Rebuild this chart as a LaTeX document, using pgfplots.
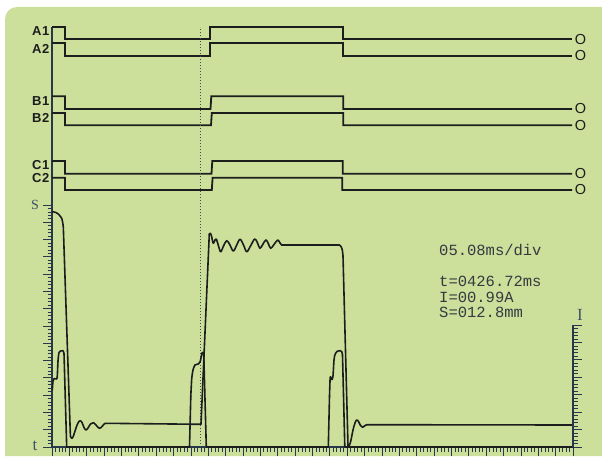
\documentclass[border=0pt]{standalone}
\usepackage{pgfplots}
\pgfplotsset{compat=1.18}
\usepackage{fontspec}
\setmainfont{Liberation Serif}
\newfontfamily\lsans{Liberation Sans}
\newfontfamily\lmono{Liberation Mono}
\definecolor{bg}{RGB}{204,224,155}
\definecolor{trace}{RGB}{28,30,30}
\definecolor{axc}{RGB}{38,56,74}
\definecolor{lab}{RGB}{62,82,104}
\definecolor{txt}{RGB}{52,58,64}
\definecolor{dotc}{RGB}{55,82,88}
\tikzset{
  lg/.style={draw=trace, line width=1.8pt, line join=miter},
  an/.style={draw=trace, line width=1.6pt, line join=round, line cap=round},
  lbl/.style={anchor=east, inner sep=0pt, text=trace, font=\lsans\bfseries\fontsize{13}{13}\selectfont},
  oo/.style={inner sep=0pt, text=trace, font=\lsans\fontsize{14.5}{14.5}\selectfont},
  info/.style={anchor=west, inner sep=0pt, text=txt, font=\lmono\fontsize{15.5}{15.5}\selectfont},
}
\begin{document}
\begin{tikzpicture}[x=1pt,y=1pt]
\path[use as bounding box] (0,0) rectangle (602,456);
\fill[white] (0,0) rectangle (602,456);
\fill[bg] (5,0) -- (5,437) arc[start angle=180,end angle=90,radius=12] -- (602,449) -- (602,0) -- cycle;
\begin{axis}[at={(52pt,9pt)}, anchor=south west, scale only axis,
  width=521pt, height=420pt, xmin=52, xmax=573, ymin=9, ymax=429,
  axis x line*=bottom, axis y line*=left, tick align=outside,
  xtick={52,69.3667,...,574}, ytick={9,26.2857,...,252},
  minor tick num=4, xticklabels={}, yticklabels={},
  major tick length=9pt, minor tick length=4.5pt,
  axis line style={axc, line width=1.2pt},
  tick style={axc, line width=0.8pt},
  clip=false, no markers,
]
% ---- logic traces ----
\addplot[lg] coordinates {(52,428.7) (65,428.7) (65,416.7) (210,416.7) (210,428.7) (343.3,428.7) (343.3,416.7) (572,416.7)};
\addplot[lg] coordinates {(52,413.3) (65,413.3) (65,400) (210,400) (210,413.3) (343.3,413.3) (343.3,400) (572,400)};
\addplot[lg] coordinates {(52,359.7) (65,359.7) (65,347) (210.5,347) (211.3,359.7) (343.3,359.7) (343.3,347) (572,347)};
\addplot[lg] coordinates {(52,343) (65,343) (65,330.7) (211,330.7) (211.8,343) (343.3,343) (343.3,330.7) (572,330.7)};
\addplot[lg] coordinates {(52,295) (65,295) (65,282.3) (211.5,282.3) (212.3,295) (342.7,295) (342.7,282.3) (572,282.3)};
\addplot[lg] coordinates {(52,278.3) (65,278.3) (65,266) (211.8,266) (212.6,278.3) (342.3,278.3) (342.3,266) (572,266)};
% ---- dotted cursor ----
\addplot[dotc, line width=1.3pt, dash pattern=on 1.4pt off 1.6pt] coordinates {(200.7,9) (200.7,429)};
% ---- S (travel) curve ----
\addplot[an, smooth, tension=0.5] coordinates {(52.3,244.3) (56,243.5) (58.3,242) (60.5,239.5) (61.7,237.7) (62.6,234) (63.3,229.3)};
\addplot[an] coordinates {(63.3,229.3) (70.4,20)};
\addplot[an, smooth, tension=0.6] coordinates {(70.4,20) (71.7,17.7) (73.2,19.5) (76,28) (78,33) (80,35.3) (82,33.5) (84,28.5) (86,26) (88,28) (90.5,32) (93.3,33.3) (96,31) (99.3,27.7) (102,29.5) (104.5,32.3) (106,32.7)};
\addplot[an] coordinates {(106,32.7) (201,31.7) (209.3,222)};
\addplot[an, smooth, tension=0.6] coordinates {(209.3,222) (210.3,222.7) (211.5,220) (213.3,212.7) (215,216) (216.5,216.5) (218.5,210) (220.7,204.3) (223.5,210) (226.7,215.3) (230,211) (233.3,205) (236.5,210.5) (240,216.7) (243.5,211) (246.7,204.3) (250.5,210) (254.7,217) (257.5,213) (260,207.7) (263,212) (266,216) (268.5,212) (270.7,207.7) (274,211.5) (277.7,216) (280,213) (281.7,211)};
\addplot[an] coordinates {(281.7,211) (339.3,211)};
\addplot[an, smooth, tension=0.5] coordinates {(339.3,211) (341,209.5) (342.3,206) (343,200)};
\addplot[an] coordinates {(343,200) (348,10)};
\addplot[an, smooth, tension=0.6] coordinates {(348,10) (349.5,11) (351,16) (353,26) (355,33) (356.7,36) (358.5,34.5) (360.5,30.5) (362.7,28.7) (364.7,30.2) (366.7,31.3)};
\addplot[an] coordinates {(366.7,31.3) (572,31)};
% ---- I (current) curve ----
\addplot[an, smooth, tension=0.4] coordinates {(52.3,66) (53,75) (54,77.3) (56.5,77) (57.3,80) (58,95) (59,103.5) (60.5,105) (63,105.3) (64,102.5)};
\addplot[an] coordinates {(64,102.5) (66.7,9) (189.5,9) (190.8,60)};
\addplot[an, smooth, tension=0.4] coordinates {(190.8,60) (191.7,77) (193,86) (195,91) (198.3,92) (200,94) (201,98) (202,103) (203.3,103.7) (203.8,100)};
\addplot[an] coordinates {(203.8,100) (206.3,9) (328.3,9) (329.5,60)};
\addplot[an, smooth, tension=0.4] coordinates {(329.5,60) (330.2,79) (331.2,77.5) (332,76.5) (333,80) (334,96) (335,101.5) (337,104.5) (340,105.3) (341.7,104.5) (342.5,101)};
\addplot[an] coordinates {(342.5,101) (344.8,9) (573,9)};
% ---- labels ----
\node[lbl] at (axis cs:49.5,424.7) {A\kern0.6pt1};
\node[lbl] at (axis cs:49.5,407.5) {A\kern0.6pt2};
\node[lbl] at (axis cs:49.5,355) {B\kern0.6pt1};
\node[lbl] at (axis cs:49.5,338) {B\kern0.6pt2};
\node[lbl] at (axis cs:49.5,291) {C\kern0.6pt1};
\node[lbl] at (axis cs:49.5,278.3) {C\kern0.6pt2};
\node[oo] at (axis cs:580.5,416.7) {O};
\node[oo] at (axis cs:580.5,400) {O};
\node[oo] at (axis cs:580.5,347) {O};
\node[oo] at (axis cs:580.5,330.7) {O};
\node[oo] at (axis cs:580.5,282.3) {O};
\node[oo] at (axis cs:580.5,266) {O};
\node[text=lab, inner sep=0pt, font=\fontsize{14}{14}\selectfont] at (axis cs:35,251.5) {S};
\node[text=lab, inner sep=0pt, font=\fontsize{17}{17}\selectfont] at (axis cs:35,10.5) {t};
\node[text=lab, inner sep=0pt, font=\fontsize{17}{17}\selectfont] at (axis cs:580,141) {I};
\node[info] at (axis cs:439,206) {05.08ms/div};
\node[info] at (axis cs:439,174.7) {t=0426.72ms};
\node[info] at (axis cs:439,159) {I=00.99A};
\node[info] at (axis cs:439,143.2) {S=012.8mm};
\end{axis}
\begin{axis}[at={(52pt,9pt)}, anchor=south west, scale only axis,
  width=521pt, height=122pt, xmin=52, xmax=573, ymin=9, ymax=131,
  axis x line=none, axis y line*=right, tick align=outside,
  xtick=\empty, ytick={9,26.4286,...,132}, minor tick num=4, yticklabels={},
  major tick length=9pt, minor tick length=4.5pt,
  axis line style={axc, line width=1.2pt},
  tick style={axc, line width=0.8pt}, clip=false]
\addplot[draw=none] coordinates {(60,20) (61,21)};
\end{axis}
\end{tikzpicture}
\end{document}
